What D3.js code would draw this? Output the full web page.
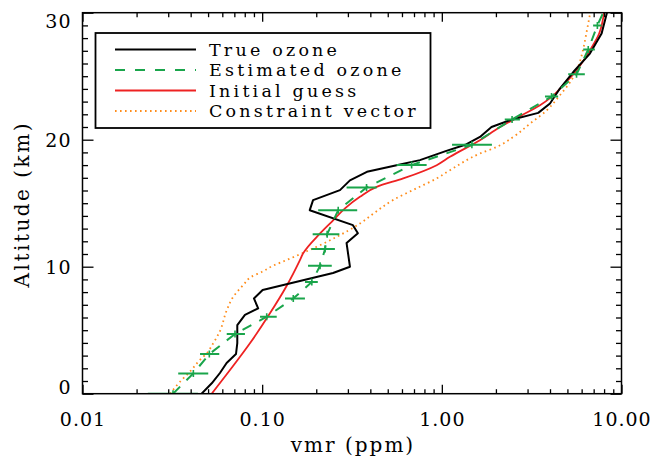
<!DOCTYPE html>
<html>
<head>
<meta charset="utf-8">
<script src="https://cdn.jsdelivr.net/npm/d3@7"></script>
<style>
  html, body { margin: 0; padding: 0; background: #fff; }
  svg { display: block; }
  text { font-family: "DejaVu Serif", serif; fill: #000; }
</style>
</head>
<body>
<svg id="chart" width="652" height="457"></svg>
<script>
// Ozone profile retrieval: volume mixing ratio (ppm) against altitude (km)

const xTicksMajor = [0.01, 0.1, 1, 10];
const xTickLabels = ["0.01", "0.10", "1.00", "10.00"];
const yTicksMajor = [0, 10, 20, 30];
const yTickLabels = ["0", "10", "20", "30"];

// True ozone
const trueAlt = [0, 0.82, 1.63, 2.42, 3.12, 3.99, 5.4, 6.2, 6.72, 7.5, 8.16, 9.5, 10.0,
  11.86, 12.64, 13.27, 14.45, 15.24, 16.03, 16.8, 17.47, 17.99, 18.39, 19.1, 19.6,
  20.22, 21.0, 21.53, 22.11, 22.85, 24.03, 25.33, 26.78, 28.36, 30];
const trueVmr = [0.046, 0.0524, 0.0582, 0.0634, 0.0715, 0.0727, 0.0727, 0.0802, 0.095, 0.090,
  0.1006, 0.248, 0.308, 0.295, 0.341, 0.320, 0.184, 0.192, 0.271, 0.308, 0.383, 0.56,
  0.755, 1.05, 1.35, 1.63, 1.89, 2.39, 3.44, 4.0, 4.54, 5.39, 6.67, 7.75, 8.3];

// Estimated ozone with its error range
const estAlt = [0, 1.6, 3.12, 4.7, 6.06, 7.5, 8.8, 10.07, 11.4, 12.56, 14.45, 16.24, 18.0,
  19.6, 21.6, 23.4, 25.15, 27.1, 29.0, 30];
const estVmr = [0.0319, 0.0414, 0.0508, 0.0706, 0.106, 0.149, 0.189, 0.21, 0.224, 0.23,
  0.265, 0.381, 0.679, 1.47, 2.46, 4.08, 5.62, 6.53, 7.34, 7.91];
const estLow = [0.0231, 0.0341, 0.0451, 0.0635, 0.0973, 0.134, 0.173, 0.180, 0.188, 0.191,
  0.205, 0.295, 0.560, 1.14, 2.24, 3.75, 5.05, 6.12, 6.95, null];
const estHigh = [0.0439, 0.0501, 0.0577, 0.0802, 0.1205, 0.173, 0.204, 0.244, 0.254, 0.269,
  0.338, 0.434, 0.823, 1.90, 2.72, 4.44, 6.25, 7.11, 7.75, null];

// Initial guess
const guessAlt = [0, 1.86, 3.97, 6.33, 8.42, 10.5, 11.05, 12.62, 13.67, 14.59, 15.5, 16.29,
  16.95, 17.99, 18.65, 19.96, 21.0, 21.85, 22.71, 23.37, 24.29, 25.47, 27.04, 28.36, 30];
const guessVmr = [0.0524, 0.0662, 0.0855, 0.1105, 0.136, 0.162, 0.169, 0.21, 0.249, 0.289,
  0.35, 0.434, 0.61, 0.936, 1.11, 1.63, 2.11, 2.72, 3.52, 4.08, 4.74, 5.63, 6.67, 7.51, 8.0];

// Constraint vector
const priorAlt = [0, 0.94, 1.73, 2.65, 3.18, 3.97, 4.88, 6.59, 7.63, 8.55, 9.2, 9.6, 10.05,
  10.55, 11.57, 12.35, 13.4, 14.19, 15.24, 16.16, 16.95, 17.6, 18.91, 19.43, 20.22, 21.27,
  22.32, 23.5, 24.68, 25.73, 27.04, 28.36, 30];
const priorVmr = [0.0307, 0.0349, 0.0396, 0.045, 0.0491, 0.0534, 0.058, 0.0636, 0.069, 0.0784,
  0.087, 0.100, 0.114, 0.138, 0.201, 0.26, 0.35, 0.417, 0.534, 0.72, 0.935, 1.11, 1.63, 2.02,
  2.5, 3.1, 3.84, 4.54, 5.26, 5.73, 6.1, 6.37, 6.7];

const legendNames = ["True ozone", "Estimated ozone", "Initial guess", "Constraint vector"];

const colors = { truth: "#000000", est: "#1aa54b", guess: "#ee2222", prior: "#ff8c1a" };

const svg = d3.select("#chart");
const margin = { left: 82.5, right: 30.5, top: 12.7, bottom: 63.3 };
const W = 652, H = 457;

const x = d3.scaleLog().domain([0.01, 10]).range([margin.left, W - margin.right]);
const y = d3.scaleLinear().domain([0, 30]).range([H - margin.bottom, margin.top]);

const [x0, x1] = x.range();
const [yb, yt] = y.range();

svg.append("defs").append("clipPath").attr("id", "plotClip")
  .append("rect").attr("x", x0).attr("y", yt).attr("width", x1 - x0).attr("height", yb - yt);

const plot = svg.append("g").attr("clip-path", "url(#plotClip)");

const pts = (alt, vmr) => alt.map((a, i) => [vmr[i], a]);

const lineLin = d3.line().x(d => x(d[0])).y(d => y(d[1]));
const lineSmooth = d3.line().x(d => x(d[0])).y(d => y(d[1])).curve(d3.curveMonotoneY);

// Constraint vector (dotted)
plot.append("path").datum(pts(priorAlt, priorVmr))
  .attr("d", lineSmooth).attr("fill", "none")
  .attr("stroke", colors.prior).attr("stroke-width", 1.8)
  .attr("stroke-dasharray", "1.6,3.4");

// Initial guess
plot.append("path").datum(pts(guessAlt, guessVmr))
  .attr("d", lineSmooth).attr("fill", "none")
  .attr("stroke", colors.guess).attr("stroke-width", 1.8);

// True ozone
plot.append("path").datum(pts(trueAlt, trueVmr))
  .attr("d", lineLin).attr("fill", "none")
  .attr("stroke", colors.truth).attr("stroke-width", 2)
  .attr("stroke-linejoin", "round");

// Estimated ozone (dashed) with horizontal error bars
plot.append("path").datum(pts(estAlt, estVmr))
  .attr("d", lineLin).attr("fill", "none")
  .attr("stroke", colors.est).attr("stroke-width", 2)
  .attr("stroke-dasharray", "10,9");

const bars = estAlt.map((a, i) => ({ a, v: estVmr[i], lo: estLow[i], hi: estHigh[i] }))
  .filter(d => d.lo != null);

plot.selectAll("line.err").data(bars).join("line")
  .attr("class", "err")
  .attr("x1", d => x(d.lo)).attr("x2", d => x(d.hi))
  .attr("y1", d => y(d.a)).attr("y2", d => y(d.a))
  .attr("stroke", colors.est).attr("stroke-width", 2);

plot.selectAll("line.mid").data(bars).join("line")
  .attr("class", "mid")
  .attr("x1", d => x(d.v)).attr("x2", d => x(d.v))
  .attr("y1", d => y(d.a) - 3.5).attr("y2", d => y(d.a) + 3.5)
  .attr("stroke", colors.est).attr("stroke-width", 1.6);

// Axes: ticks point inward on all four sides
const minorX = [];
for (const dec of [0.01, 0.1, 1]) for (let k = 2; k <= 9; k++) minorX.push(dec * k);
const minorY = d3.range(0, 31).filter(v => v % 10 !== 0);

function styleAxis(g) {
  g.select(".domain").remove();
  g.selectAll(".tick line").attr("stroke", "#000").attr("stroke-width", 1.3);
  g.selectAll(".tick text").remove();
}

svg.append("g").attr("transform", `translate(0,${yb})`)
  .call(d3.axisBottom(x).tickValues(xTicksMajor).tickSize(-9)).call(styleAxis);
svg.append("g").attr("transform", `translate(0,${yb})`)
  .call(d3.axisBottom(x).tickValues(minorX).tickSize(-4.5)).call(styleAxis);
svg.append("g").attr("transform", `translate(0,${yt})`)
  .call(d3.axisTop(x).tickValues(xTicksMajor).tickSize(-9)).call(styleAxis);
svg.append("g").attr("transform", `translate(0,${yt})`)
  .call(d3.axisTop(x).tickValues(minorX).tickSize(-4.5)).call(styleAxis);

svg.append("g").attr("transform", `translate(${x0},0)`)
  .call(d3.axisLeft(y).tickValues(yTicksMajor).tickSize(-11)).call(styleAxis);
svg.append("g").attr("transform", `translate(${x0},0)`)
  .call(d3.axisLeft(y).tickValues(minorY).tickSize(-5.5)).call(styleAxis);
svg.append("g").attr("transform", `translate(${x1},0)`)
  .call(d3.axisRight(y).tickValues(yTicksMajor).tickSize(-11)).call(styleAxis);
svg.append("g").attr("transform", `translate(${x1},0)`)
  .call(d3.axisRight(y).tickValues(minorY).tickSize(-5.5)).call(styleAxis);

// Frame
svg.append("rect").attr("x", x0).attr("y", yt)
  .attr("width", x1 - x0).attr("height", yb - yt)
  .attr("fill", "none").attr("stroke", "#000").attr("stroke-width", 1.5);

// Tick labels
svg.selectAll("text.xl").data(xTicksMajor).join("text")
  .attr("class", "xl")
  .attr("x", d => x(d) + 0.5).attr("y", yb + 32)
  .attr("text-anchor", "middle").attr("font-size", 19)
  .attr("letter-spacing", 1)
  .text((d, i) => xTickLabels[i]);

svg.selectAll("text.yl").data(yTicksMajor).join("text")
  .attr("class", "yl")
  .attr("x", x0 - 11)
  .attr("y", d => Math.min(Math.max(y(d), yt + 8), yb - 7) + 7)
  .attr("text-anchor", "end").attr("font-size", 19)
  .attr("letter-spacing", 1)
  .text((d, i) => yTickLabels[i]);

// Axis titles
svg.append("text")
  .attr("x", (x0 + x1) / 2 + 1).attr("y", 452)
  .attr("text-anchor", "middle").attr("font-size", 20)
  .attr("letter-spacing", 2)
  .text("vmr (ppm)");

svg.append("text")
  .attr("transform", `translate(29,${(yt + yb) / 2 + 1}) rotate(-90)`)
  .attr("text-anchor", "middle").attr("font-size", 20)
  .attr("letter-spacing", 2.5)
  .text("Altitude (km)");

// Legend
const legend = svg.append("g");
legend.append("rect").attr("x", 95.5).attr("y", 33).attr("width", 335).attr("height", 95)
  .attr("fill", "#fff").attr("stroke", "#000").attr("stroke-width", 1.8);

const legendStyles = [
  { color: colors.truth, dash: null, w: 2 },
  { color: colors.est, dash: "10,10", w: 2 },
  { color: colors.guess, dash: null, w: 1.8 },
  { color: colors.prior, dash: "1.6,3.4", w: 1.8 }
];
legendNames.forEach((name, i) => {
  const ly = 49.5 + i * 20.5;
  const s = legendStyles[i];
  legend.append("line").attr("x1", 115).attr("x2", 196).attr("y1", ly).attr("y2", ly)
    .attr("stroke", s.color).attr("stroke-width", s.w)
    .attr("stroke-dasharray", s.dash);
  legend.append("text").attr("x", 209).attr("y", ly + 6)
    .attr("font-size", 17.5).attr("letter-spacing", 3.2).text(name);
});
</script>
</body>
</html>
